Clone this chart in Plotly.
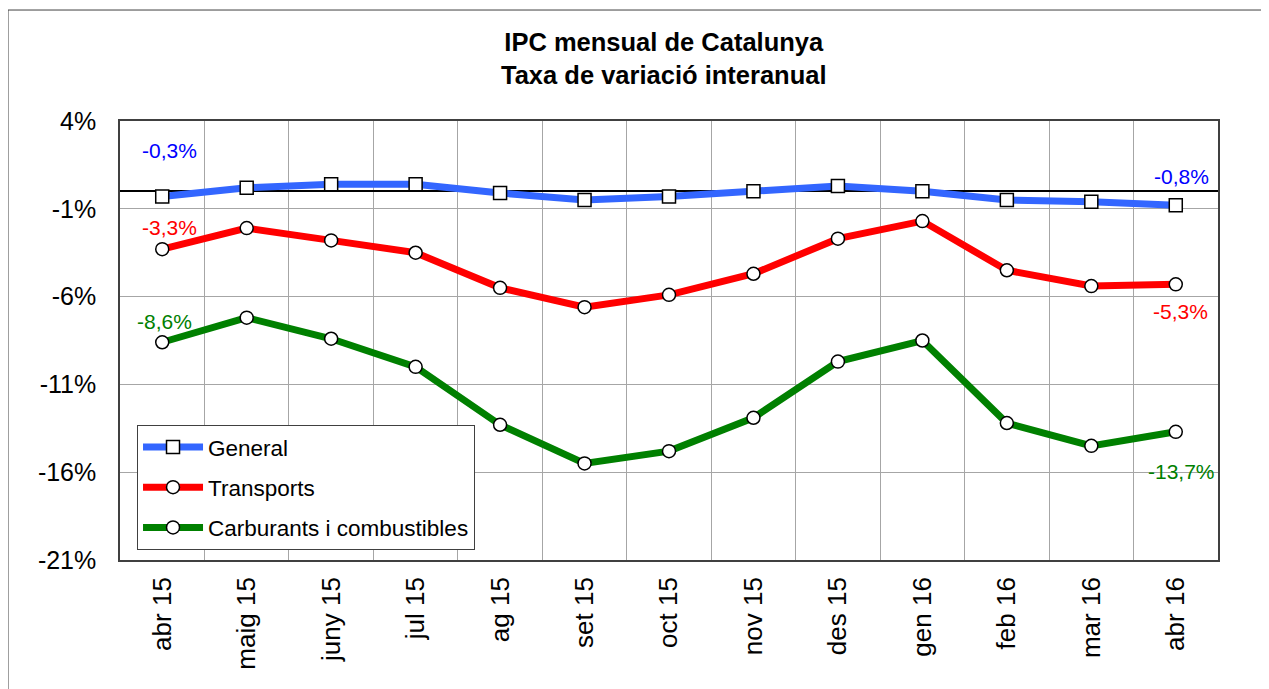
import plotly.graph_objects as go

months = ["abr 15", "maig 15", "juny 15", "jul 15", "ag 15", "set 15", "oct 15",
          "nov 15", "des 15", "gen 16", "feb 16", "mar 16", "abr 16"]
general = [-0.3, 0.2, 0.4, 0.4, -0.1, -0.5, -0.3, 0.0, 0.3, 0.0, -0.5, -0.6, -0.8]
transports = [-3.3, -2.1, -2.8, -3.5, -5.5, -6.6, -5.9, -4.7, -2.7, -1.7, -4.5, -5.4, -5.3]
carburants = [-8.6, -7.2, -8.4, -10.0, -13.3, -15.5, -14.8, -12.9, -9.7, -8.5, -13.2, -14.5, -13.7]
y_ticks = [4, -1, -6, -11, -16, -21]
y_ticktext = ["4%", "-1%", "-6%", "-11%", "-16%", "-21%"]

FONT = "Liberation Sans, Arial, sans-serif"
series = [
    ("General", general, "#3366FF", "square"),
    ("Transports", transports, "#FF0000", "circle"),
    ("Carburants i combustibles", carburants, "#008000", "circle"),
]

fig = go.Figure()
for i, (name, vals, color, sym) in enumerate(series):
    fig.add_trace(go.Scatter(
        x=months, y=vals, name=name, mode="lines+markers",
        legendgroup=f"g{i}",
        line=dict(color=color, width=7),
        marker=dict(symbol=sym, size=13, color="white",
                    line=dict(color="black", width=1.5)),
        hoverinfo="skip",
    ))

def lab(text, x, y, color, xs, ys):
    fig.add_annotation(x=x, y=y, xref="x", yref="y", text=text, showarrow=False,
                       xshift=xs, yshift=ys, font=dict(family=FONT, size=21, color=color))

lab("-0,3%", months[0], general[0], "#0000FF", 7, 46)
lab("-3,3%", months[0], transports[0], "#FF0000", 7, 22)
lab("-8,6%", months[0], carburants[0], "#008000", 2, 21)
lab("-0,8%", months[-1], general[-1], "#0000FF", 6, 29)
lab("-5,3%", months[-1], transports[-1], "#FF0000", 5, -27)
lab("-13,7%", months[-1], carburants[-1], "#008000", 6, -40)

fig.add_annotation(xref="paper", yref="paper", x=0.495, y=1.1424, yanchor="middle",
                   text="<b>IPC mensual de Catalunya<br>Taxa de variació interanual</b>",
                   showarrow=False, font=dict(family=FONT, size=25.5, color="black"))

fig.add_shape(type="rect", xref="paper", yref="paper", x0=-0.102, x1=1.3, y0=-0.5, y1=1.2528,
              line=dict(color="#404040", width=1), fillcolor="rgba(0,0,0,0)", layer="below")

fig.update_layout(
    width=1269, height=689,
    margin=dict(l=112, r=59, t=113, b=137),
    paper_bgcolor="white", plot_bgcolor="white",
    font=dict(family=FONT, color="black"),
    showlegend=True,
    legend=dict(x=0.0155, y=0.308, xanchor="left", yanchor="top",
                bgcolor="white", bordercolor="#404040", borderwidth=1,
                font=dict(family=FONT, size=22.5, color="black"),
                tracegroupgap=8, itemwidth=60),
    xaxis=dict(type="category", range=[-0.5, 12.5], tickson="boundaries",
               showgrid=True, gridcolor="#A6A6A6", gridwidth=1,
               showline=True, mirror=True, linecolor="#404040", linewidth=1.5,
               ticks="", tickangle=-90, tickfont=dict(family=FONT, size=26, color="black"),
               ticklabelstandoff=5),
    yaxis=dict(range=[-21, 4], tickvals=y_ticks, ticktext=y_ticktext,
               showgrid=True, gridcolor="#A6A6A6", gridwidth=1,
               zeroline=True, zerolinecolor="black", zerolinewidth=2,
               showline=True, mirror=True, linecolor="#404040", linewidth=1.5,
               ticks="", tickfont=dict(family=FONT, size=25, color="black"),
               ticklabelstandoff=17),
)

fig.write_html("out.html")
